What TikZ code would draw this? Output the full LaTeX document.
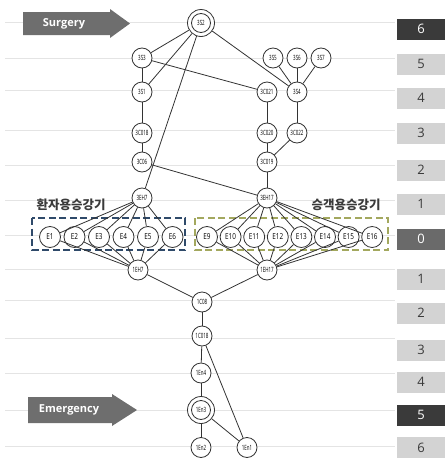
\documentclass[tikz,border=0pt]{standalone}
\usepackage{fontspec}
\setmainfont{Open Sans}
\newfontfamily\krfont{Noto Sans CJK KR}
\definecolor{guide}{HTML}{E4E4E4}
\definecolor{edgec}{HTML}{333333}
\definecolor{arrowc}{HTML}{6E6E6E}
\definecolor{darkbox}{HTML}{3A3A3A}
\definecolor{midbox}{HTML}{6A6A6A}
\definecolor{lightbox}{HTML}{D3D3D3}
\definecolor{bluebox}{HTML}{2F4A6A}
\definecolor{greenbox}{HTML}{A3A85E}
\newcommand{\nlbl}[1]{\scalebox{0.62}[1]{\fontsize{7.2}{7.2}\selectfont #1}}
\newcommand{\elbl}[1]{\scalebox{0.78}[1]{\fontsize{8.2}{8.2}\selectfont #1}}
\begin{document}
\begin{tikzpicture}[x=1pt,y=-1pt,
  nd/.style={circle,draw=edgec,fill=white,line width=0.8pt,minimum size=20pt,inner sep=0pt},
  dnd/.style={circle,draw=edgec,fill=white,line width=0.8pt,minimum size=27pt,inner sep=0pt},
  en/.style={circle,draw=edgec,fill=white,line width=0.8pt,minimum size=21pt,inner sep=0pt},
  ln/.style={draw=edgec,line width=0.8pt},
  guideline/.style={draw=guide,line width=0.8pt},
  lvl/.style={minimum width=48pt,minimum height=21pt,inner sep=0pt,font=\fontsize{13}{13}\selectfont},
  lvllight/.style={lvl,fill=lightbox,text=darkbox},
  lvldark/.style={lvl,fill=darkbox,text=white},
  lvlmid/.style={lvl,fill=midbox,text=white},
  blockarrow/.style={fill=arrowc},
  arrowtext/.style={text=white,font=\bfseries\fontsize{11}{11}\selectfont},
  kr/.style={font=\krfont\bfseries\fontsize{12.5}{12.5}\selectfont,text=darkbox},
]
\useasboundingbox (0,0) rectangle (445,458);
% guide lines
\foreach \yy in {22,58,90,130,165,200,235,269,300,338,373,410,446}
  \draw[guideline] (5,\yy) -- (395,\yy);
% level boxes
\node[lvldark]  (L6a) at (421,29)  {6};
\node[lvllight] (L5a) at (421,64)  {5};
\node[lvllight] (L4a) at (421,98)  {4};
\node[lvllight] (L3a) at (421,133) {3};
\node[lvllight] (L2a) at (421,170) {2};
\node[lvllight] (L1a) at (421,204) {1};
\node[lvlmid]   (L0)  at (421,239) {0};
\node[lvllight] (L1b) at (421,279) {1};
\node[lvllight] (L2b) at (421,313) {2};
\node[lvllight] (L3b) at (421,350) {3};
\node[lvllight] (L4b) at (421,382) {4};
\node[lvldark]  (L5b) at (421,415) {5};
\node[lvllight] (L6b) at (421,447.5) {6};
% block arrows
\fill[blockarrow] (23,12) -- (110,12) -- (110,9) -- (130,23.5) -- (110,38) -- (110,35) -- (23,35) -- cycle;
\node[arrowtext] (surg) at (64,23.5) {Surgery};
\fill[blockarrow] (28,397) -- (112,397) -- (112,394) -- (137,410) -- (112,426) -- (112,423) -- (28,423) -- cycle;
\node[arrowtext] (emer) at (69,410) {Emergency};
% dashed groups
\draw[bluebox,line width=1.8pt,dash pattern=on 7pt off 3.5pt] (32,218) rectangle (185,250);
\draw[greenbox,line width=1.8pt,dash pattern=on 7pt off 3.5pt] (195,218) rectangle (388,250);
\node[kr] (krL) at (71,205) {환자용승강기};
\node[kr] (krR) at (346,205) {승객용승강기};
% nodes
\node[dnd] (s2) at (201,23) {};
\draw[edgec,line width=0.8pt] (s2.center) circle (9.5pt);
\node (s2t) at (201,23) {\nlbl{3S2}};
\node[nd] (s3) at (142,58) {\nlbl{3S3}};
\node[nd] (s5) at (273,58) {\nlbl{3S5}};
\node[nd] (s6) at (297,58) {\nlbl{3S6}};
\node[nd] (s7) at (321,58) {\nlbl{3S7}};
\node[nd] (s1) at (142,92) {\nlbl{3S1}};
\node[nd] (c021) at (267,92) {\nlbl{3C021}};
\node[nd] (s4) at (297,92) {\nlbl{3S4}};
\node[nd] (c018) at (142,133) {\nlbl{3C018}};
\node[nd] (c020) at (267,133) {\nlbl{3C020}};
\node[nd] (c022) at (297,133) {\nlbl{3C022}};
\node[nd] (c06) at (142,162) {\nlbl{3C06}};
\node[nd] (c019) at (267,162) {\nlbl{3C019}};
\node[nd] (eh7) at (142,198) {\nlbl{3EH7}};
\node[nd] (eh17) at (267,198) {\nlbl{3EH17}};
% E nodes
\foreach \i/\xx in {1/50,2/74.5,3/99,4/123.5,5/148,6/172.5}
  \node[en] (E\i) at (\xx,237) {\elbl{E\i}};
\foreach \i/\xx in {9/207,10/230.6,11/254.2,12/277.8,13/301.4,14/325,15/348.6,16/372.2}
  \node[en] (E\i) at (\xx,237) {\elbl{E\i}};
\node[nd] (beh7) at (138,270) {\nlbl{1EH7}};
\node[nd] (beh17) at (267,270) {\nlbl{1EH17}};
\node[nd] (bc08) at (202,302) {\nlbl{1C08}};
\node[nd] (bc018) at (202,336) {\nlbl{1C018}};
\node[nd] (en4) at (201,373) {\nlbl{1En4}};
\node[dnd] (en3) at (201,410) {};
\draw[edgec,line width=0.8pt] (en3.center) circle (9.5pt);
\node (en3t) at (201,410) {\nlbl{1En3}};
\node[nd] (en2) at (201,447.5) {\nlbl{1En2}};
\node[nd] (en1) at (247,447.5) {\nlbl{1En1}};
% edges
\draw[ln] (s2) -- (s3);
\draw[ln] (s2) -- (s1);
\draw[ln] (s2) -- (eh7);
\draw[ln] (s2) -- (s4);
\draw[ln] (s3) -- (s1);
\draw[ln] (s3) -- (c021);
\draw[ln] (s5) -- (s4);
\draw[ln] (s6) -- (s4);
\draw[ln] (s7) -- (s4);
\draw[ln] (s1) -- (c018);
\draw[ln] (c018) -- (c06);
\draw[ln] (c06) -- (eh17);
\draw[ln] (c021) -- (c020);
\draw[ln] (s4) -- (c022);
\draw[ln] (c020) -- (c019);
\draw[ln] (c022) -- (c019);
\draw[ln] (c019) -- (eh17);
\foreach \i in {1,...,6} { \draw[ln] (eh7) -- (E\i); \draw[ln] (E\i) -- (beh7); }
\foreach \i in {9,...,16} { \draw[ln] (eh17) -- (E\i); \draw[ln] (E\i) -- (beh17); }
\draw[ln] (beh7) -- (bc08);
\draw[ln] (beh17) -- (bc08);
\draw[ln] (bc08) -- (bc018);
\draw[ln] (bc018) -- (en4);
\draw[ln] (bc018) -- (en1);
\draw[ln] (en4) -- (en3);
\draw[ln] (en3) -- (en2);
\draw[ln] (en3) -- (en1);
\end{tikzpicture}
\end{document}
